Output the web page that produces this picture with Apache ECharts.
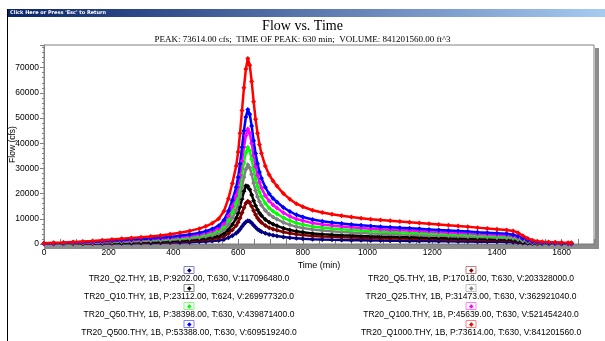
<!DOCTYPE html>
<html>
<head>
<meta charset="utf-8">
<script src="https://cdn.jsdelivr.net/npm/echarts@6/dist/echarts.min.js"></script>
<style>
html, body { margin: 0; padding: 0; background: #fff; }
#main { width: 605px; height: 341px; }
</style>
</head>
<body>
<div id="main"></div>
<script>
// time (min)
var times = [0, 30, 60, 90, 120, 150, 180, 210, 240, 270, 300, 330, 360, 390, 420, 450, 480,
	500, 520, 540, 556, 570, 582, 594,
	600, 606, 612, 618, 624, 630, 636, 642, 648, 654, 660, 666, 672,
	684, 696, 708, 720, 740, 760, 780, 800,
	830, 860, 890, 920, 950, 980, 1010, 1040, 1070, 1100, 1130, 1160, 1190, 1220, 1250, 1280, 1310, 1340, 1370, 1400, 1430,
	1450, 1465, 1480, 1495, 1510, 1525, 1540, 1560, 1580, 1600, 1620, 1630];

var seriesNames = [
	'TR20_Q2.THY, 1B, P:9202.00, T:630, V:117096480.0',
	'TR20_Q5.THY, 1B, P:17018.00, T:630, V:203328000.0',
	'TR20_Q10.THY, 1B, P:23112.00, T:624, V:269977320.0',
	'TR20_Q25.THY, 1B, P:31473.00, T:630, V:362921040.0',
	'TR20_Q50.THY, 1B, P:38398.00, T:630, V:439871400.0',
	'TR20_Q100.THY, 1B, P:45639.00, T:630, V:521454240.0',
	'TR20_Q500.THY, 1B, P:53388.00, T:630, V:609519240.0',
	'TR20_Q1000.THY, 1B, P:73614.00, T:630, V:841201560.0'
];
var colors = ['#000080', '#800000', '#000000', '#808080', '#00ff00', '#ff00ff', '#0000ff', '#ff0000'];
var boxColors = ['#8080c8', '#c08080', '#808080', '#c0c0c0', '#80ff80', '#ff80ff', '#8080ff', '#ff8080'];

// flow (cfs)
var q2 = [50, 70, 90, 120, 150, 180, 220, 260, 300, 340, 380, 420, 480, 550, 630, 730, 860,
	990, 1160, 1410, 1820, 2500, 3300, 4300,
	5000, 5900, 6900, 7900, 8700, 9202, 9000, 8300, 7400, 6600, 5900, 5350, 4900,
	4250, 3800, 3450, 3200, 2800, 2500, 2260, 2090,
	1900, 1770, 1680, 1600, 1530, 1460, 1400, 1360, 1320, 1280, 1230, 1190, 1150, 1110, 1070, 1020, 980, 940, 900, 860, 810,
	730, 590, 420, 280, 180, 130, 100, 80, 70, 60, 50, 50];
var q5 = [80, 110, 150, 190, 240, 290, 360, 430, 500, 570, 640, 710, 810, 930, 1070, 1230, 1450,
	1660, 1950, 2360, 3050, 4200, 5600, 7300,
	8600, 10300, 12400, 14400, 16200, 17018, 16500, 15000, 13200, 11600, 10300, 9300, 8500,
	7300, 6500, 5900, 5450, 4750, 4250, 3830, 3550,
	3220, 3000, 2840, 2700, 2580, 2460, 2370, 2300, 2220, 2150, 2080, 2010, 1940, 1870, 1800, 1720, 1650, 1580, 1510, 1440, 1360,
	1230, 1000, 700, 460, 300, 220, 180, 140, 120, 100, 90, 80];
var q10 = [100, 140, 190, 250, 310, 380, 470, 570, 660, 750, 850, 940, 1070, 1220, 1410, 1630, 1920,
	2200, 2580, 3140, 4100, 5700, 7700, 10200,
	12200, 14800, 17900, 20900, 23112, 22900, 21600, 19500, 17200, 15200, 13600, 12300, 11300,
	9700, 8640, 7850, 7220, 6280, 5590, 5020, 4650,
	4210, 3920, 3710, 3520, 3360, 3200, 3080, 2980, 2890, 2790, 2700, 2610, 2510, 2420, 2320, 2230, 2140, 2040, 1950, 1850, 1760,
	1580, 1280, 890, 590, 380, 280, 220, 180, 150, 130, 120, 110];
var q25 = [130, 190, 260, 340, 430, 510, 640, 770, 900, 1030, 1150, 1280, 1450, 1670, 1920, 2220, 2610,
	2990, 3510, 4280, 5560, 7700, 10300, 13300,
	15600, 18800, 22700, 26500, 29700, 31473, 30300, 27600, 24200, 21200, 18800, 16900, 15400,
	13300, 11800, 10700, 9830, 8550, 7610, 6840, 6330,
	5730, 5340, 5040, 4790, 4570, 4360, 4190, 4060, 3930, 3800, 3680, 3550, 3420, 3290, 3160, 3040, 2910, 2780, 2650, 2520, 2390,
	2150, 1750, 1220, 800, 520, 380, 300, 250, 210, 180, 160, 150];
var q50 = [150, 230, 310, 420, 520, 630, 780, 940, 1100, 1250, 1410, 1560, 1770, 2030, 2350, 2710, 3180,
	3650, 4280, 5220, 6780, 9390, 12500, 16200,
	19000, 22900, 27600, 32300, 36300, 38398, 37000, 33600, 29500, 25800, 22900, 20600, 18800,
	16200, 14300, 13000, 12000, 10400, 9280, 8350, 7720,
	6990, 6520, 6150, 5840, 5580, 5320, 5110, 4960, 4800, 4640, 4490, 4330, 4170, 4020, 3860, 3700, 3550, 3390, 3230, 3080, 2920,
	2650, 2150, 1500, 980, 640, 460, 370, 300, 260, 220, 200, 180];
var q100 = [180, 280, 370, 500, 620, 740, 930, 1120, 1300, 1490, 1670, 1860, 2110, 2420, 2790, 3220, 3780,
	4340, 5080, 6200, 8060, 11160, 14880, 19200,
	22600, 27300, 32900, 38400, 43100, 45639, 44000, 40000, 35000, 30700, 27300, 24500, 22300,
	19200, 17100, 15500, 14300, 12400, 11000, 9900, 9200,
	8300, 7750, 7320, 6940, 6630, 6320, 6080, 5890, 5700, 5520, 5330, 5150, 4960, 4770, 4590, 4400, 4220, 4030, 3840, 3660, 3470,
	3150, 2600, 1850, 1200, 780, 560, 450, 360, 310, 270, 240, 220];
var q500 = [200, 330, 430, 580, 720, 870, 1090, 1300, 1520, 1740, 1960, 2180, 2470, 2830, 3260, 3770, 4420,
	5080, 5950, 7250, 9430, 13060, 17400, 22500,
	26500, 31900, 38400, 45000, 50400, 53388, 51500, 46800, 41000, 35900, 31900, 28600, 26100,
	22500, 19900, 18100, 16700, 14500, 12900, 11600, 10700,
	9700, 9070, 8560, 8120, 7760, 7400, 7100, 6890, 6670, 6450, 6240, 6020, 5800, 5580, 5370, 5150, 4930, 4710, 4500, 4280, 4060,
	3700, 3100, 2200, 1400, 900, 650, 520, 420, 360, 310, 280, 260];
var q1000 = [300, 450, 600, 800, 1000, 1200, 1500, 1800, 2100, 2400, 2700, 3000, 3400, 3900, 4500, 5200, 6100,
	7000, 8200, 10000, 13000, 18000, 24000, 31000,
	36500, 44000, 53000, 62000, 69500, 73614, 71000, 64500, 56500, 49500, 44000, 39500, 36000,
	31000, 27500, 25000, 23000, 20000, 17800, 16000, 14800,
	13400, 12500, 11800, 11200, 10700, 10200, 9800, 9500, 9200, 8900, 8600, 8300, 8000, 7700, 7400, 7100, 6800, 6500, 6200, 5900, 5600,
	5200, 4500, 3300, 2200, 1500, 1100, 900, 750, 650, 550, 500, 450];

var flows = [q2, q5, q10, q25, q50, q100, q500, q1000];
// legend layout: left column Q2,Q10,Q50,Q500 ; right column Q5,Q25,Q100,Q1000
var legendOrder = [0, 2, 4, 6, 1, 3, 5, 7];

var chart = echarts.init(document.getElementById('main'), null, { renderer: 'canvas' });

var series = [];
for (var i = 0; i < flows.length; i++) {
	var pts = [];
	for (var j = 0; j < times.length; j++) {
		pts.push([times[j], flows[i][j]]);
	}
	series.push({
		name: seriesNames[i],
		type: 'line',
		data: pts,
		symbol: 'diamond',
		symbolSize: 5,
		showSymbol: true,
		lineStyle: { color: colors[i], width: 2.5 },
		itemStyle: { color: colors[i] },
		animation: false
	});
}

var legendRich = { t: { fontSize: 8.5, color: '#000', align: 'center', lineHeight: 10, fontFamily: 'Liberation Sans' } };
for (var k = 0; k < colors.length; k++) {
	legendRich['m' + k] = {
		fontSize: 6, color: colors[k], align: 'center',
		width: 10, height: 7, lineHeight: 8,
		borderColor: boxColors[k], borderWidth: 1
	};
}
function legendText(name) {
	var idx = seriesNames.indexOf(name);
	return '{m' + idx + '|◆}\n{t|' + name + '}';
}
var legends = [];
for (var n = 0; n < legendOrder.length; n++) {
	var col = n < 4 ? 0 : 1;
	var row = n % 4;
	var center = col == 0 ? 188 : 470;
	legends.push({
		data: [seriesNames[legendOrder[n]]],
		left: center - 115 - 5,
		top: 266 + row * 18,
		padding: 0,
		itemWidth: 0,
		itemHeight: 0,
		selectedMode: false,
		formatter: legendText,
		textStyle: { width: 230, rich: legendRich }
	});
}

var option = {
	backgroundColor: '#fff',
	animation: false,
	title: {
		text: 'Flow vs. Time',
		subtext: 'PEAK: 73614.00 cfs;  TIME OF PEAK: 630 min;  VOLUME: 841201560.00 ft^3',
		left: 'center',
		top: 14,
		itemGap: 2,
		textStyle: { fontFamily: 'Liberation Serif', fontWeight: 'normal', fontSize: 14, color: '#000' },
		subtextStyle: { fontFamily: 'Liberation Serif', fontSize: 9, color: '#000' }
	},
	legend: legends,
	grid: {
		left: 44, right: 11, top: 45, bottom: 97,
		outerBoundsMode: 'none',
		containLabel: false,
		show: true, borderColor: '#808080', borderWidth: 1, backgroundColor: '#fff'
	},
	xAxis: {
		type: 'value',
		min: 0, max: 1700, interval: 50,
		name: 'Time (min)',
		nameLocation: 'middle',
		nameGap: 17,
		nameMoveOverlap: false,
		nameTextStyle: { fontFamily: 'Liberation Sans', fontSize: 9, color: '#000' },
		axisLine: { lineStyle: { color: '#808080' } },
		axisTick: { inside: true, length: 5, lineStyle: { color: '#808080' } },
		axisLabel: {
			fontFamily: 'Liberation Sans', fontSize: 8.5, color: '#000', margin: 4,
			formatter: function(v) { return v % 200 === 0 ? String(v) : ''; }
		},
		splitLine: { show: false }
	},
	yAxis: {
		type: 'value',
		min: 0, max: 79000, interval: 10000,
		name: 'Flow (cfs)',
		nameLocation: 'middle',
		nameGap: 27,
		nameRotate: 90,
		nameMoveOverlap: false,
		nameTextStyle: { fontFamily: 'Liberation Sans', fontSize: 8.5, color: '#000' },
		axisLine: { show: true, lineStyle: { color: '#808080' } },
		axisTick: { show: true, length: 4, lineStyle: { color: '#808080' } },
		minorTick: { show: true, splitNumber: 5, length: 2, lineStyle: { color: '#808080' } },
		axisLabel: {
			fontFamily: 'Liberation Sans', fontSize: 8.5, color: '#000', margin: 5, showMaxLabel: false,
			formatter: function(v) { return String(v); }
		},
		splitLine: { show: false }
	},
	graphic: [
		{ type: 'rect', left: 7, top: 9, z: -1, shape: { width: 598, height: 8 },
			style: { fill: new echarts.graphic.LinearGradient(0, 0, 1, 0, [
				{ offset: 0, color: '#0a246a' }, { offset: 1, color: '#a6caf0' }]) } },
		{ type: 'text', left: 10, top: 10, z: 1,
			style: { text: "Click Here or Press 'Esc' to Return", fill: '#fff', font: 'bold 5px "DejaVu Sans"' } },
		{ type: 'rect', left: 7, top: 9, z: 1, shape: { width: 1, height: 332 }, style: { fill: '#000' } },
		{ type: 'rect', left: 595, top: 48, z: -1, shape: { width: 4, height: 201 }, style: { fill: '#8c8c8c' } },
		{ type: 'rect', left: 44, top: 244, z: -1, shape: { width: 555, height: 5 }, style: { fill: '#8c8c8c' } }
	],
	series: series
};
chart.setOption(option);
</script>
</body>
</html>
